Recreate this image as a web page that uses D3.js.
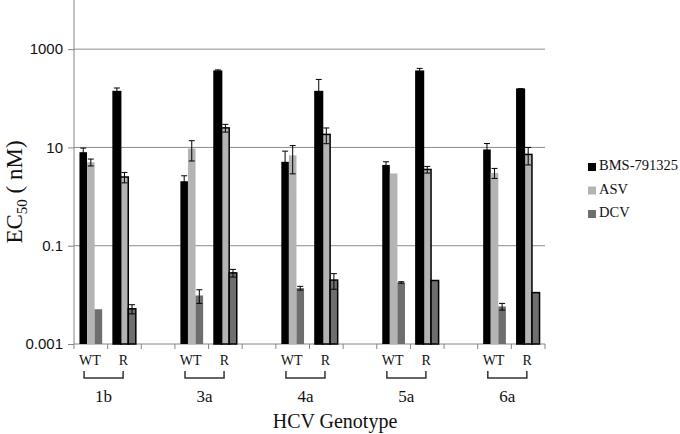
<!DOCTYPE html>
<html>
<head>
<meta charset="utf-8">
<script src="https://cdn.jsdelivr.net/npm/d3@7"></script>
<style>
  body { margin: 0; background: #fff; }
  svg { display: block; }
</style>
</head>
<body>
<div id="chart-container"></div>
<script>
// Données du graphique
const genotypes = ["1b", "3a", "4a", "5a", "6a"];
const conditions = ["WT", "R"];
const series = ["BMS-791325", "ASV", "DCV"];
const seriesColors = ["#000000", "#b4b4b4", "#6e6e6e"];
const yTickValues = [0.001, 0.1, 10, 1000];

// EC50 (nM), une ligne par génotype : [WT, R], chaque condition [BMS, ASV, DCV]
const bmsValues = [[8.0, 137], [2.05, 356], [5.1, 137], [4.4, 356], [9.1, 153]];
const bmsErrors = [[1.7, 25], [0.6, 22], [3.3, 105], [0.7, 50], [2.9, 4]];
const asvValues = [[5.0, 2.5], [9.5, 25], [6.9, 18.4], [2.95, 3.56], [3.04, 7.2]];
const asvErrors = [[0.8, 0.6], [4.2, 4.5], [4.0, 6.5], [0, 0.55], [0.7, 2.8]];
const dcvValues = [[0.0051, 0.0052], [0.0097, 0.028], [0.0137, 0.020], [0.0179, 0.0196], [0.0058, 0.0111]];
const dcvErrors = [[0, 0.0011], [0.003, 0.005], [0.0012, 0.007], [0.0006, 0], [0.0009, 0]];

const values = [bmsValues, asvValues, dcvValues];
const errors = [bmsErrors, asvErrors, dcvErrors];

const width = 680;
const height = 434;
const margin = { top: 0, left: 74, right: 135, bottom: 90 };
const font = "'Liberation Serif', 'Times New Roman', serif";
const tickFont = "'Liberation Sans', Arial, sans-serif";

const svg = d3
  .select("#chart-container")
  .append("svg")
  .attr("width", width)
  .attr("height", height);

// 14 emplacements : WT, R, vide, WT, R, vide ...
const slots = [];
genotypes.forEach((g, gi) => {
  conditions.forEach((c) => slots.push(g + "-" + c));
  if (gi < genotypes.length - 1) slots.push("gap-" + g);
});

const xScale = d3
  .scaleBand()
  .domain(slots)
  .range([margin.left, width - margin.right])
  .padding(0);

const xInner = d3
  .scaleBand()
  .domain(series)
  .range([0, xScale.bandwidth()])
  .paddingInner(0)
  .paddingOuter(0.72);

const yScale = d3
  .scaleLog()
  .domain([0.001, 10000])
  .range([height - margin.bottom, margin.top]);

const x0 = margin.left;
const x1 = width - margin.right;
const yBase = yScale(0.001);

// Grille horizontale
svg
  .selectAll(".grid")
  .data(yTickValues.slice(1))
  .enter()
  .append("line")
  .attr("x1", x0)
  .attr("x2", x1)
  .attr("y1", (d) => yScale(d))
  .attr("y2", (d) => yScale(d))
  .attr("stroke", "#8c8c8c")
  .attr("stroke-width", 1);

// Axe Y
const yAxis = svg
  .append("g")
  .attr("transform", `translate(${x0},0)`)
  .call(
    d3.axisLeft(yScale)
      .tickValues(yTickValues)
      .tickSize(6)
      .tickPadding(5)
      .tickFormat((d) => String(+d.toPrecision(3)))
  );
yAxis.select(".domain").remove();
yAxis.selectAll(".tick line").attr("stroke", "#868686");
yAxis
  .selectAll(".tick text")
  .style("font-family", tickFont)
  .style("font-size", "15px")
  .attr("fill", "#111");

svg
  .append("line")
  .attr("x1", x0)
  .attr("x2", x0)
  .attr("y1", yScale(10000))
  .attr("y2", yBase)
  .attr("stroke", "#868686");

// Axe X (ligne + graduations aux limites des emplacements)
svg
  .append("line")
  .attr("x1", x0)
  .attr("x2", x1)
  .attr("y1", yBase)
  .attr("y2", yBase)
  .attr("stroke", "#868686");

const boundaries = slots.map((s) => xScale(s)).concat([xScale(slots[slots.length - 1]) + xScale.bandwidth()]);
svg
  .selectAll(".xtick")
  .data(boundaries)
  .enter()
  .append("line")
  .attr("x1", (d) => d)
  .attr("x2", (d) => d)
  .attr("y1", yBase)
  .attr("y2", yBase + 5)
  .attr("stroke", "#868686");

// Barres
genotypes.forEach((g, gi) => {
  conditions.forEach((c, ci) => {
    const slotX = xScale(g + "-" + c);
    series.forEach((s, si) => {
      const v = values[si][gi][ci];
      const e = errors[si][gi][ci];
      const bx = slotX + xInner(s);
      const bw = xInner.bandwidth();
      const outlined = c === "R";

      svg
        .append("rect")
        .attr("x", bx)
        .attr("y", yScale(v))
        .attr("width", bw)
        .attr("height", yBase - yScale(v))
        .attr("fill", seriesColors[si])
        .attr("stroke", outlined ? "#000" : "none")
        .attr("stroke-width", outlined ? 1.5 : 0);

      // Barres d'erreur
      if (e > 0) {
        const cx = bx + bw / 2;
        const yTop = yScale(v + e);
        const yBot = yScale(Math.max(v - e, 0.0011));
        const g2 = svg.append("g").attr("stroke", "#000").attr("stroke-width", 1);
        g2.append("line").attr("x1", cx).attr("x2", cx).attr("y1", yTop).attr("y2", yBot);
        g2.append("line").attr("x1", cx - 3).attr("x2", cx + 3).attr("y1", yTop).attr("y2", yTop);
        g2.append("line").attr("x1", cx - 3).attr("x2", cx + 3).attr("y1", yBot).attr("y2", yBot);
      }
    });
  });
});

// Étiquettes WT / R
genotypes.forEach((g) => {
  conditions.forEach((c) => {
    svg
      .append("text")
      .attr("x", xScale(g + "-" + c) + xScale.bandwidth() / 2 - 1)
      .attr("y", 362)
      .attr("text-anchor", "middle")
      .attr("dominant-baseline", "middle")
      .style("font-family", font)
      .style("font-size", "14px")
      .style("fill", "#111")
      .text(c);
  });

  // Accolade sous WT / R
  const bw = xScale.bandwidth();
  const bx0 = xScale(g + "-WT") + bw * 0.3;
  const bx1 = xScale(g + "-R") + bw * 0.46;
  const path = d3.path();
  path.moveTo(bx0, 371);
  path.lineTo(bx0, 378);
  path.lineTo(bx1, 378);
  path.lineTo(bx1, 371);
  svg
    .append("path")
    .attr("d", path.toString())
    .attr("fill", "none")
    .attr("stroke", "#333")
    .attr("stroke-width", 1.5);

  svg
    .append("text")
    .attr("x", (bx0 + bx1) / 2)
    .attr("y", 398)
    .attr("text-anchor", "middle")
    .attr("dominant-baseline", "middle")
    .style("font-family", font)
    .style("font-size", "17px")
    .style("fill", "#111")
    .text(g);
});

// Titre axe X
svg
  .append("text")
  .attr("x", 335)
  .attr("y", 428)
  .attr("text-anchor", "middle")
  .style("font-family", font)
  .style("font-size", "20px")
  .style("fill", "#111")
  .text("HCV Genotype");

// Titre axe Y (EC50 avec indice)
const yTitle = svg
  .append("text")
  .attr("transform", "translate(22,192) rotate(-90)")
  .attr("text-anchor", "middle")
  .style("font-family", font)
  .style("font-size", "23px")
  .style("fill", "#111");
yTitle.append("tspan").text("EC");
yTitle.append("tspan").attr("dy", 5).style("font-size", "15px").text("50");
yTitle.append("tspan").attr("dy", -5).text(" ( nM)");

// Légende
const legend = svg
  .selectAll(".legend")
  .data(series)
  .enter()
  .append("g")
  .attr("transform", (d, i) => `translate(588,${167 + i * 23.5})`);

legend
  .append("rect")
  .attr("x", 0)
  .attr("y", -4)
  .attr("width", 8)
  .attr("height", 8)
  .attr("fill", (d, i) => seriesColors[i]);

legend
  .append("text")
  .attr("x", 11)
  .attr("y", 0)
  .attr("dominant-baseline", "middle")
  .style("font-family", font)
  .style("font-size", "14.5px")
  .style("fill", "#111")
  .text((d) => d);
</script>
</body>
</html>
